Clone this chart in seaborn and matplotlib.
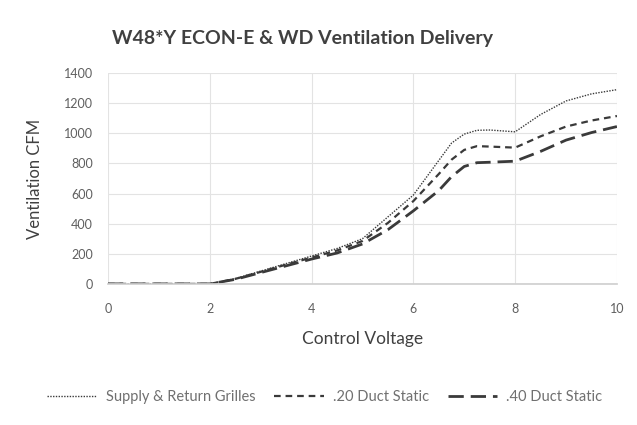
import matplotlib
matplotlib.use("Agg")
import matplotlib.pyplot as plt
import seaborn as sns
import pandas as pd

# Control voltage (V) and delivered ventilation airflow (CFM)
voltage = [0, 0.5, 1, 1.5, 2, 2.5, 3, 3.5, 4, 4.5, 5, 5.5, 6, 6.5, 6.75, 7, 7.25, 7.5, 8, 8.5, 9, 9.5, 10]
supply_return = [0, 0, 0, 0, 0, 35, 85, 135, 185, 235, 300, 445, 590, 820, 935, 995, 1020, 1022, 1010, 1125, 1215, 1262, 1290]
duct_20 = [0, 0, 0, 0, 0, 33, 80, 128, 175, 222, 285, 405, 550, 730, 825, 890, 915, 912, 905, 980, 1045, 1085, 1115]
duct_40 = [0, 0, 0, 0, 0, 30, 75, 120, 165, 205, 265, 360, 485, 620, 712, 780, 805, 808, 815, 880, 955, 1005, 1045]
series_names = ["Supply & Return Grilles", ".20 Duct Static", ".40 Duct Static"]

df = pd.concat([
    pd.DataFrame({"Control Voltage": voltage, "CFM": vals, "Series": name})
    for name, vals in zip(series_names, [supply_return, duct_20, duct_40])
])

sns.set_theme(style="white")
plt.rcParams["font.family"] = ["Lato", "DejaVu Sans"]

fig = plt.figure(figsize=(6.37, 4.25), dpi=100)
ax = fig.add_axes([0.1695, 0.332, 0.799, 0.496])

line_color = "#3a3a3a"
dash_map = {
    "Supply & Return Grilles": (1, 1),
    ".20 Duct Static": (3, 2.2),
    ".40 Duct Static": (5.5, 2.5),
}
widths = {"Supply & Return Grilles": 1.0, ".20 Duct Static": 1.6, ".40 Duct Static": 2.0}

sns.lineplot(data=df, x="Control Voltage", y="CFM", hue="Series", style="Series",
             dashes=dash_map, palette=[line_color] * 3, ax=ax, legend=False)
for line, name in zip(ax.get_lines(), series_names):
    line.set_linewidth(widths[name])

ax.set_xlim(0, 10)
ax.set_ylim(0, 1400)
ax.set_xticks(range(0, 11, 2))
ax.set_yticks(range(0, 1401, 200))
ax.grid(True, color="#e3e3e3", linewidth=0.8)
for s in ["top", "right", "left"]:
    ax.spines[s].set_visible(False)
ax.spines["bottom"].set_color("#d0d0d0")
ax.tick_params(axis="both", length=0, labelsize=9, colors="#5f5f5f")
ax.tick_params(axis="x", pad=14)
ax.tick_params(axis="y", pad=11)

ax.set_xlabel("Control Voltage", fontsize=12.5, color="#404040", labelpad=11)
ax.set_ylabel("Ventilation CFM", fontsize=12, color="#404040", labelpad=15)
fig.text(0.475, 0.91, "W48*Y ECON-E & WD Ventilation Delivery", ha="center",
         va="center", fontsize=14, fontweight="bold", color="#404040")

handles = [plt.Line2D([], [], color=line_color, lw=widths[n], dashes=dash_map[n])
           for n in series_names]
fig.legend(handles, series_names, loc="center", bbox_to_anchor=(0.51, 0.066),
           ncol=3, frameon=False, fontsize=10.5, labelcolor="#707070",
           handlelength=3.4, columnspacing=1.3, handletextpad=0.6)

fig.savefig("out.png", dpi=100, facecolor="white")
